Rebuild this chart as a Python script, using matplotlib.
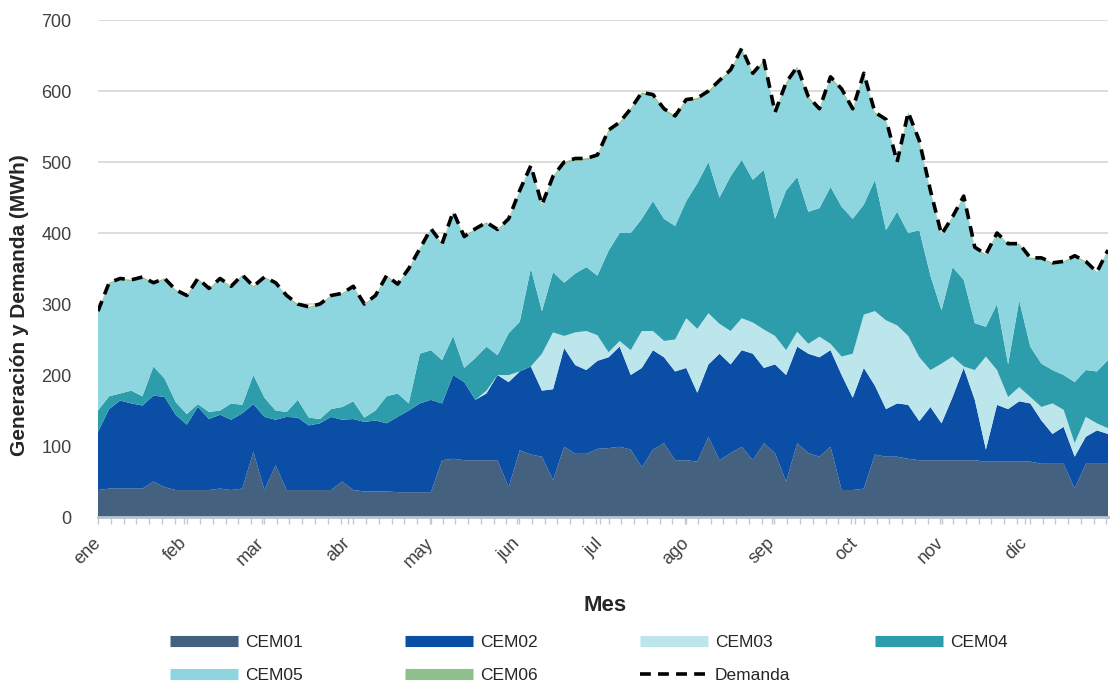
import numpy as np
import matplotlib
matplotlib.use("Agg")
import matplotlib.pyplot as plt
from matplotlib.lines import Line2D

plt.rcParams['font.family'] = ['Liberation Sans', 'DejaVu Sans']

# day of year, one sample every 4 days
dias = np.arange(0, 365, 4)

meses = ["ene", "feb", "mar", "abr", "may", "jun", "jul", "ago", "sep", "oct", "nov", "dic"]
inicio_mes = [0, 31, 59, 90, 120, 151, 181, 212, 243, 273, 304, 334]

# generation per plant (MWh)
cem01 = [38, 40, 40, 40, 40, 50, 42, 38, 38, 38,
         38, 40, 38, 40, 92, 38, 73, 38, 38, 38,
         38, 38, 50, 38, 36, 36, 36, 35, 35, 35,
         35, 80, 82, 80, 80, 80, 80, 42, 94, 88,
         85, 52, 99, 89, 89, 96, 97, 99, 95, 70,
         95, 104, 80, 80, 78, 113, 80, 90, 99, 80,
         104, 90, 50, 104, 90, 85, 99, 38, 38, 40,
         88, 85, 85, 82, 80, 80, 80, 80, 80, 80,
         78, 78, 78, 78, 78, 75, 75, 75, 40, 75,
         75, 75]
cem02 = [82, 112, 124, 120, 117, 121, 127, 106, 92, 117,
         100, 104, 99, 106, 67, 103, 64, 103, 102, 91,
         94, 103, 87, 100, 98, 100, 96, 106, 115, 125,
         130, 80, 118, 110, 85, 94, 120, 148, 111, 124,
         93, 128, 139, 125, 118, 124, 128, 141, 105, 140,
         140, 121, 125, 130, 97, 102, 150, 125, 136, 150,
         106, 125, 150, 136, 140, 140, 136, 162, 130, 170,
         97, 67, 75, 76, 55, 75, 52, 89, 130, 85,
         17, 80, 74, 85, 82, 61, 42, 52, 45, 38,
         47, 42]
cem03 = [0, 0, 0, 0, 0, 0, 0, 0, 0, 0,
         0, 0, 0, 0, 0, 0, 0, 0, 0, 0,
         0, 0, 0, 0, 0, 0, 0, 0, 0, 0,
         0, 0, 0, 0, 0, 4, 0, 10, 0, 0,
         52, 80, 17, 46, 55, 36, 7, 8, 35, 52,
         27, 23, 45, 70, 90, 72, 42, 47, 45, 44,
         54, 40, 35, 21, 14, 29, 9, 26, 62, 75,
         105, 125, 110, 97, 90, 52, 84, 57, 2, 42,
         131, 49, 17, 20, 9, 19, 43, 24, 19, 28,
         10, 8]
cem04 = [30, 18, 10, 18, 13, 41, 26, 18, 15, 4,
         10, 6, 23, 12, 41, 27, 13, 7, 25, 11,
         6, 11, 18, 25, 6, 14, 38, 33, 10, 70,
         70, 61, 55, 20, 59, 62, 28, 59, 70, 138,
         60, 85, 75, 83, 90, 84, 143, 152, 165, 158,
         183, 172, 160, 165, 205, 213, 178, 218, 223, 201,
         225, 165, 225, 218, 186, 181, 221, 211, 190, 155,
         185, 127, 160, 145, 179, 133, 75, 126, 122, 66,
         42, 93, 46, 122, 71, 61, 47, 49, 86, 66,
         73, 96]
cem05 = [138, 158, 160, 154, 166, 116, 139, 156, 165, 175,
         172, 184, 163, 181, 123, 168, 178, 162, 133, 154,
         160, 158, 158, 160, 158, 160, 168, 152, 188, 146,
         169, 162, 173, 183, 180, 173, 175, 159, 183, 143,
         147, 132, 167, 159, 150, 167, 167, 153, 172, 175,
         147, 152, 152, 140, 117, 97, 162, 147, 154, 147,
         151, 147, 149, 152, 159, 137, 152, 163, 152, 182,
         92, 153, 67, 167, 123, 118, 105, 69, 116, 105,
         100, 98, 168, 78, 123, 147, 149, 158, 176, 151,
         138, 153]
cem06 = [2, 2, 2, 2, 2, 2, 2, 2, 2, 2,
         2, 2, 2, 2, 2, 2, 2, 2, 2, 2,
         2, 2, 2, 2, 2, 2, 2, 2, 2, 2,
         2, 2, 2, 2, 2, 2, 2, 2, 2, 2,
         3, 3, 3, 3, 3, 3, 3, 3, 3, 3,
         3, 3, 3, 3, 3, 3, 3, 3, 3, 3,
         3, 3, 3, 3, 3, 3, 3, 3, 3, 3,
         3, 3, 3, 3, 3, 2, 2, 2, 2, 2,
         2, 2, 2, 2, 2, 2, 2, 2, 2, 2,
         2, 2]
demanda = [290, 330, 336, 334, 338, 330, 336, 320, 312, 336,
           322, 336, 325, 341, 325, 338, 330, 312, 300, 296,
           300, 312, 315, 325, 300, 312, 340, 328, 350, 378,
           406, 385, 430, 395, 406, 415, 405, 420, 460, 495,
           440, 480, 500, 505, 505, 510, 545, 556, 575, 598,
           595, 575, 565, 588, 590, 600, 615, 630, 660, 625,
           643, 570, 612, 634, 592, 575, 620, 603, 575, 625,
           570, 560, 500, 570, 530, 460, 398, 423, 452, 380,
           370, 400, 385, 385, 365, 365, 358, 360, 368, 360,
           345, 376]

nombres = ["CEM01", "CEM02", "CEM03", "CEM04", "CEM05", "CEM06"]
colores = ["#44617f", "#0b4ea6", "#bde6ec", "#2d9dab", "#8dd6e0", "#8fbf8c"]

fig = plt.figure(figsize=(11.11, 6.9), dpi=100)
ax = fig.add_axes([0.0882, 0.2507, 0.9091, 0.7203])

ax.stackplot(dias, cem01, cem02, cem03, cem04, cem05, cem06,
             colors=colores, linewidth=0)
dash = (0, (3, 2))
ax.plot(dias, demanda, color="black", lw=2.6, linestyle=dash)

ax.set_xlim(0, 364)
ax.set_ylim(0, 700)
ax.set_yticks(range(0, 701, 100))
ax.yaxis.grid(True, color="#d9d9d9", lw=1.3)
ax.set_axisbelow(True)
for s in ["top", "right", "left"]:
    ax.spines[s].set_visible(False)
ax.spines["bottom"].set_color("#b9c4d3")
ax.spines["bottom"].set_linewidth(2)
ax.spines["bottom"].set_zorder(5)

ax.set_xticks(inicio_mes)
ax.set_xticklabels(meses, rotation=45, ha="right", va="center", rotation_mode="anchor")
ax.set_xticks(np.arange(0, 365, 4.6), minor=True)
ax.tick_params(axis="x", which="both", length=5, width=1, color="#c8c8c8",
               labelsize=13, labelcolor="#404040", pad=12)
ax.tick_params(axis="y", length=0, labelsize=13, labelcolor="#404040", pad=19)

fig.text(0.018, 0.558, "Generación y Demanda (MWh)", rotation=90, ha="center", va="center",
         fontsize=15, fontweight="bold", color="#262626")
fig.text(0.5446, 0.123, "Mes", ha="center", va="center", fontsize=16,
         fontweight="bold", color="#262626")

# legend laid out as four fixed-width columns, like the original
def parche(c):
    return Line2D([], [], color=c, lw=8, solid_capstyle="butt")

h = {n: parche(c) for n, c in zip(nombres, colores)}
h["Demanda"] = Line2D([], [], color="black", lw=2.6, linestyle=dash)
columnas = [["CEM01", "CEM05"], ["CEM02", "CEM06"], ["CEM03", "Demanda"], ["CEM04"]]
col_x = [170, 405, 640, 875]
for x, col in zip(col_x, columnas):
    fig.legend([h[n] for n in col], col, loc="upper left",
               bbox_to_anchor=(x / 1111, 1 - 635 / 690), frameon=False,
               fontsize=12.5, handlelength=3.9, handletextpad=0.4,
               labelspacing=1.0, borderpad=0, borderaxespad=0,
               labelcolor="#262626")

fig.savefig("out.png", dpi=100)
